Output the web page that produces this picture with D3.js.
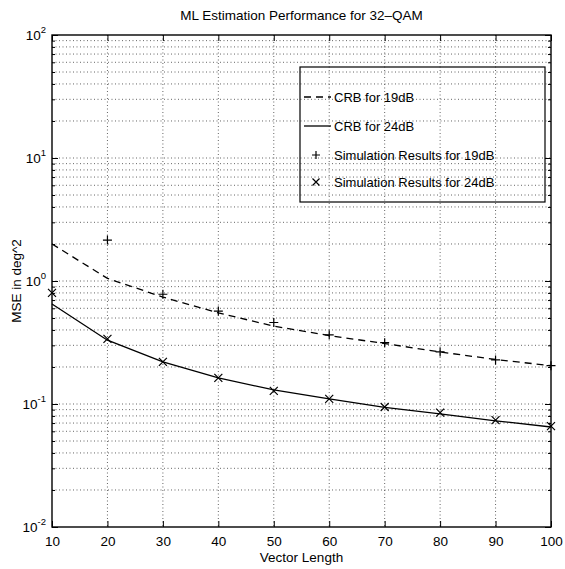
<!DOCTYPE html>
<html lang="en">
	<head>
		<meta charset="UTF-8" />
		<title>ML Estimation Performance for 32-QAM</title>
		<script src="https://d3js.org/d3.v7.min.js"></script>
		<style>
			html,
			body {
				margin: 0;
				background: #fff;
			}
			svg {
				font-family: 'Liberation Sans', Arial, sans-serif;
				display: block;
			}
			.grid line {
				stroke: #222;
				stroke-width: 0.7;
				stroke-dasharray: 1, 2.5;
			}
		</style>
	</head>
	<body>
		<svg id="chart" width="565" height="569"></svg>
		<script>
			// values
			const vectorLength = [10, 20, 30, 40, 50, 60, 70, 80, 90, 100];
			const crb19 = [2.0, 1.05, 0.74, 0.55, 0.43, 0.36, 0.31, 0.265, 0.23, 0.205];
			const crb24 = [0.65, 0.33, 0.22, 0.163, 0.13, 0.11, 0.094, 0.083, 0.073, 0.065];
			const simX19 = [20, 30, 40, 50, 60, 70, 80, 90, 100];
			const sim19 = [2.15, 0.78, 0.57, 0.46, 0.365, 0.315, 0.265, 0.228, 0.205];
			const sim24 = [0.8, 0.338, 0.22, 0.163, 0.128, 0.11, 0.0946, 0.085, 0.074, 0.066];
			const xTicks = [10, 20, 30, 40, 50, 60, 70, 80, 90, 100];
			const yDecades = [-2, -1, 0, 1, 2];
			const legendLabels = [
				'CRB for 19dB',
				'CRB for 24dB',
				'Simulation Results for 19dB',
				'Simulation Results for 24dB',
			];

			const svg = d3.select('#chart');
			const margin = { top: 35, right: 14, bottom: 42, left: 52 };
			const width = +svg.attr('width');
			const height = +svg.attr('height');
			const pLeft = margin.left;
			const pRight = width - margin.right;
			const pTop = margin.top;
			const pBottom = height - margin.bottom;

			const x = d3.scaleLinear().domain([10, 100]).range([pLeft, pRight]);
			const y = d3.scaleLog().domain([0.01, 100]).range([pBottom, pTop]);

			// all log grid values: majors and minors
			const yGridVals = [];
			yDecades.slice(0, -1).forEach((p) => {
				for (let k = 1; k < 10; k++) yGridVals.push(k * Math.pow(10, p));
			});
			yGridVals.push(100);
			const yMajorVals = yDecades.map((p) => Math.pow(10, p));
			const yMinor = yGridVals.filter((v, i) => i % 9 !== 0);

			// grid
			const grid = svg.append('g').attr('class', 'grid');
			grid
				.selectAll('line.gx')
				.data(xTicks.slice(1, -1))
				.enter()
				.append('line')
				.attr('x1', (d) => x(d))
				.attr('x2', (d) => x(d))
				.attr('y1', pTop)
				.attr('y2', pBottom);
			grid
				.selectAll('line.gy')
				.data(yGridVals.slice(1, -1))
				.enter()
				.append('line')
				.attr('x1', pLeft)
				.attr('x2', pRight)
				.attr('y1', (d) => y(d))
				.attr('y2', (d) => y(d));

			// axes (ticks inward, on all four sides)
			const tickLen = 6;
			const minorLen = 3;
			svg
				.append('g')
				.attr('transform', `translate(0,${pBottom})`)
				.call(d3.axisBottom(x).tickValues(xTicks).tickSize(-tickLen).tickPadding(9).tickFormat(d3.format('d')))
				.call((g) => g.select('.domain').remove())
				.call((g) => g.selectAll('text').attr('font-size', 13.5).attr('fill', '#000').attr('font-family', null));
			svg
				.append('g')
				.attr('transform', `translate(0,${pTop})`)
				.call(d3.axisTop(x).tickValues(xTicks).tickSize(-tickLen).tickFormat(''))
				.call((g) => g.select('.domain').remove());

			[
				[pLeft, d3.axisLeft],
				[pRight, d3.axisRight],
			].forEach(([pos, axisFn]) => {
				svg
					.append('g')
					.attr('transform', `translate(${pos},0)`)
					.call(axisFn(y).tickValues(yMajorVals).tickSize(-tickLen).tickFormat(''))
					.call((g) => g.select('.domain').remove());
				svg
					.append('g')
					.attr('transform', `translate(${pos},0)`)
					.call(axisFn(y).tickValues(yMinor).tickSize(-minorLen).tickFormat(''))
					.call((g) => g.select('.domain').remove());
			});

			// y tick labels as 10^n
			const yLab = svg
				.selectAll('text.ylab')
				.data(yDecades)
				.enter()
				.append('text')
				.attr('class', 'ylab')
				.attr('x', pLeft - 6)
				.attr('y', (d) => y(Math.pow(10, d)) + 5)
				.attr('text-anchor', 'end')
				.attr('font-size', 13.5);
			yLab.append('tspan').text('10');
			yLab
				.append('tspan')
				.attr('dy', -7)
				.attr('font-size', 9.5)
				.text((d) => d);

			// frame
			svg
				.append('rect')
				.attr('x', pLeft)
				.attr('y', pTop)
				.attr('width', pRight - pLeft)
				.attr('height', pBottom - pTop)
				.attr('fill', 'none')
				.attr('stroke', '#000')
				.attr('stroke-width', 1.4);

			// lines
			const line = d3
				.line()
				.x((d, i) => x(vectorLength[i]))
				.y((d) => y(d));
			svg
				.append('path')
				.attr('d', line(crb19))
				.attr('fill', 'none')
				.attr('stroke', '#000')
				.attr('stroke-width', 1.3)
				.attr('stroke-dasharray', '7,5');
			svg
				.append('path')
				.attr('d', line(crb24))
				.attr('fill', 'none')
				.attr('stroke', '#000')
				.attr('stroke-width', 1.3);

			// markers
			const plus = (g, cx, cy, r) => {
				g.append('path')
					.attr('d', `M${cx - r},${cy}H${cx + r}M${cx},${cy - r}V${cy + r}`)
					.attr('stroke', '#000')
					.attr('stroke-width', 1.2);
			};
			const cross = (g, cx, cy, r) => {
				g.append('path')
					.attr('d', `M${cx - r},${cy - r}L${cx + r},${cy + r}M${cx - r},${cy + r}L${cx + r},${cy - r}`)
					.attr('stroke', '#000')
					.attr('stroke-width', 1.2);
			};
			const marks = svg.append('g');
			sim19.forEach((v, i) => plus(marks, x(simX19[i]), y(v), 4.5));
			sim24.forEach((v, i) => cross(marks, x(vectorLength[i]), y(v), 4));

			// legend
			const lg = { x: 300, y: 67, w: 245, h: 135 };
			svg
				.append('rect')
				.attr('x', lg.x)
				.attr('y', lg.y)
				.attr('width', lg.w)
				.attr('height', lg.h)
				.attr('fill', 'none')
				.attr('stroke', '#000')
				.attr('stroke-width', 1.2);
			const rowY = [97, 126, 155, 182];
			legendLabels.forEach((label, i) => {
				const ry = rowY[i];
				if (i === 0 || i === 1) {
					svg
						.append('line')
						.attr('x1', lg.x + 4)
						.attr('x2', lg.x + 31)
						.attr('y1', ry)
						.attr('y2', ry)
						.attr('stroke', '#000')
						.attr('stroke-width', 1.3)
						.attr('stroke-dasharray', i === 0 ? '7,5' : null);
				} else if (i === 2) {
					plus(svg, lg.x + 16, ry, 4);
				} else {
					cross(svg, lg.x + 16, ry, 3.5);
				}
				svg
					.append('text')
					.attr('x', lg.x + 34)
					.attr('y', ry + 4.5)
					.attr('font-size', 13)
					.text(label);
			});

			// titles
			svg
				.append('text')
				.attr('x', (pLeft + pRight) / 2)
				.attr('y', 20)
				.attr('text-anchor', 'middle')
				.attr('font-size', 13.5)
				.text('ML Estimation Performance for 32\u2013QAM');
			svg
				.append('text')
				.attr('x', (pLeft + pRight) / 2)
				.attr('y', 562)
				.attr('text-anchor', 'middle')
				.attr('font-size', 13.5)
				.text('Vector Length');
			svg
				.append('text')
				.attr('transform', `translate(21,${(pTop + pBottom) / 2}) rotate(-90)`)
				.attr('text-anchor', 'middle')
				.attr('font-size', 13.5)
				.text('MSE in deg^2');
		</script>
	</body>
</html>
